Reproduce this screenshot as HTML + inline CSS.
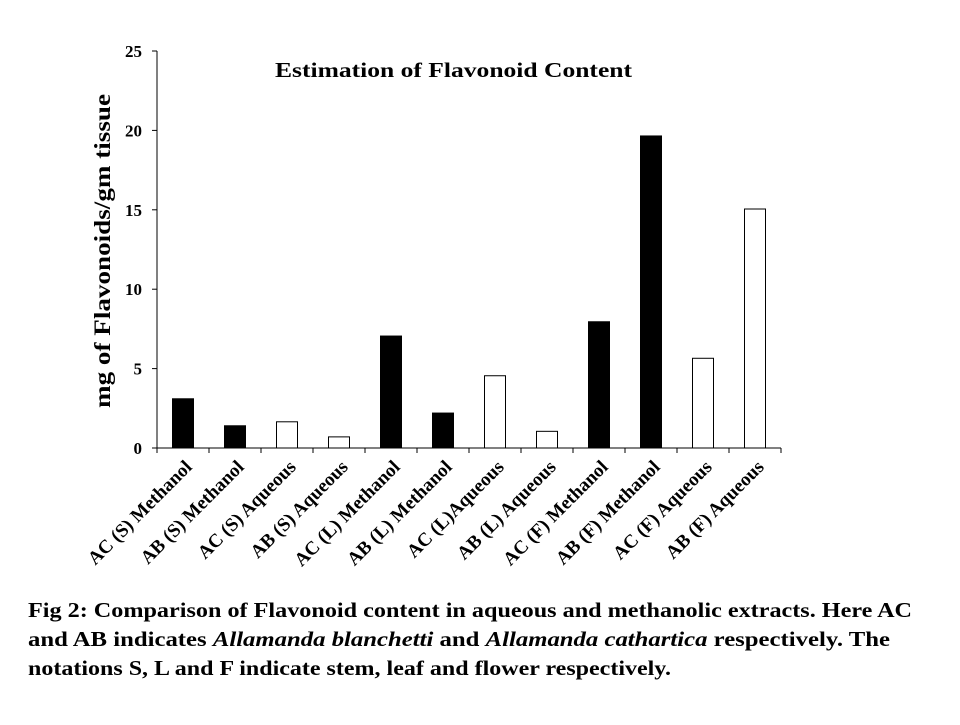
<!DOCTYPE html>
<html><head><meta charset="utf-8"><style>
body{margin:0;background:#fff;font-family:"Liberation Serif",serif;}
</style></head><body>
<svg width="960" height="720" xmlns="http://www.w3.org/2000/svg" font-family="Liberation Serif, serif" font-weight="bold">
<g id="plot"></g>
<text x="275" y="77" font-size="21" textLength="357" lengthAdjust="spacingAndGlyphs">Estimation of Flavonoid Content</text>
<text transform="translate(110,408) rotate(-90)" font-size="23" textLength="314" lengthAdjust="spacingAndGlyphs">mg of Flavonoids/gm tissue</text>
<text x="28" y="617" font-size="21" textLength="884" lengthAdjust="spacingAndGlyphs">Fig 2: Comparison of Flavonoid content in aqueous and methanolic extracts. Here AC</text>
<text x="28" y="646" font-size="21" textLength="862" lengthAdjust="spacingAndGlyphs">and AB  indicates <tspan font-style="italic">Allamanda blanchetti</tspan> and <tspan font-style="italic">Allamanda cathartica</tspan> respectively. The</text>
<text x="28" y="675" font-size="21" textLength="643" lengthAdjust="spacingAndGlyphs">notations S, L and F indicate stem, leaf and flower respectively.</text>
</svg>
<script>
const categories=["AC (S) Methanol","AB (S) Methanol","AC (S) Aqueous","AB (S) Aqueous","AC (L) Methanol","AB (L) Methanol","AC (L)Aqueous","AB (L) Aqueous","AC (F) Methanol","AB (F) Methanol","AC (F) Aqueous","AB (F) Aqueous"];
const values=[3.1,1.4,1.65,0.7,7.05,2.2,4.55,1.05,7.95,19.65,5.65,15.05];
const solvent=["M","M","A","A","M","M","A","A","M","M","A","A"];
const yTicks=[0,5,10,15,20,25];
const NS="http://www.w3.org/2000/svg";
const g=document.getElementById("plot");
const x0=157,step=52,yBase=448,yTop=51,yMax=25,bw=21;
const y=v=>yBase-(v/yMax)*(yBase-yTop);
const xc=i=>x0+step*(i+0.5);
function mk(t,a){const e=document.createElementNS(NS,t);for(const k in a)e.setAttribute(k,a[k]);g.appendChild(e);return e;}
let ax=mk("line",{x1:x0,y1:yTop,x2:x0,y2:yBase,stroke:"#000","stroke-width":1});


let xa=mk("line",{x1:x0,y1:yBase,x2:x0+step*categories.length,y2:yBase,stroke:"#000","stroke-width":1});


yTicks.forEach(t=>{
 mk("line",{x1:x0-5,x2:x0,y1:y(t),y2:y(t),stroke:"#000"});
 const tx=mk("text",{x:x0-15,y:y(t)+6,"text-anchor":"end","font-size":17});
 tx.textContent=t;
 
 
});
for(let i=0;i<=categories.length;i++)mk("line",{x1:x0+step*i,x2:x0+step*i,y1:yBase,y2:yBase+5,stroke:"#000"});
categories.forEach((c,i)=>{
 const b=mk("rect",{x:xc(i)-bw/2,y:y(values[i]),width:bw,height:yBase-y(values[i]),fill:solvent[i]==="M"?"#000":"#fff",stroke:"#000","stroke-width":1});
 
 
 const t=mk("text",{transform:`translate(${xc(i)+10},${yBase+20}) rotate(-45)`,"text-anchor":"end","font-size":19});
 t.textContent=c;
 
 
});
</script>
</body></html>
